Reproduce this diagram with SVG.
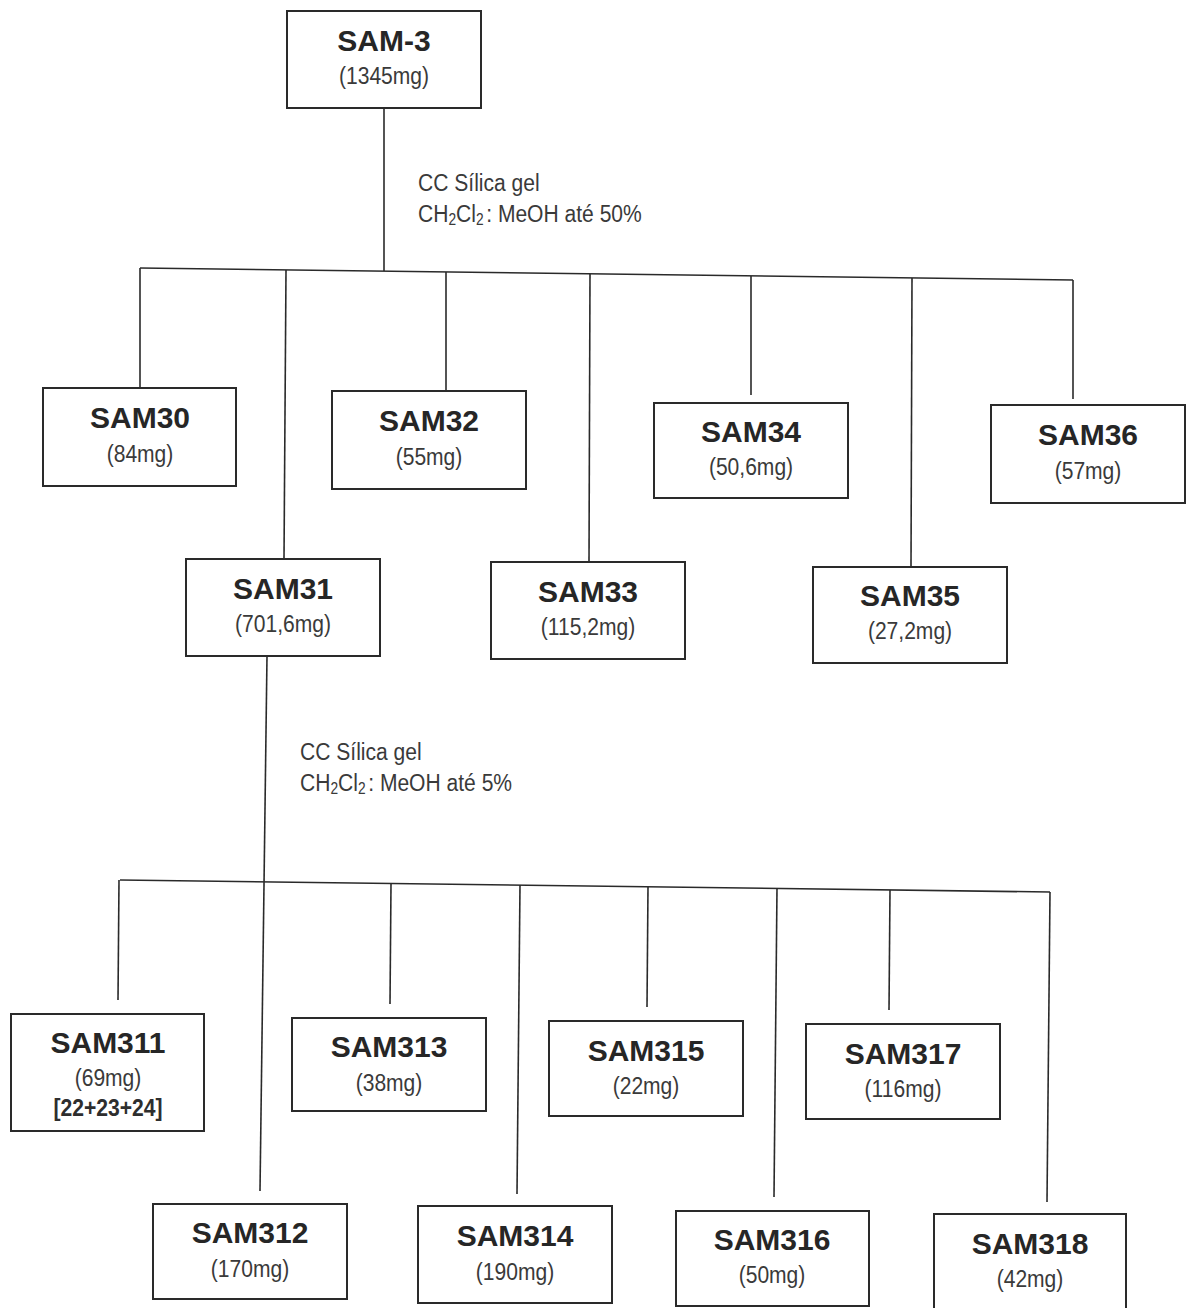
<svg xmlns="http://www.w3.org/2000/svg" width="1192" height="1308" viewBox="0 0 1192 1308">
<style>
.box{fill:#fff;stroke:#2a2a2a;stroke-width:2}
.ln{stroke:#2a2a2a;stroke-width:1.6;fill:none}
.t{font-family:"Liberation Sans",Arial,sans-serif;font-weight:bold;font-size:30px;fill:#262626;text-anchor:middle}
.m{font-family:"Liberation Sans",Arial,sans-serif;font-size:24.5px;fill:#3a3a3a;text-anchor:middle}
.b{font-family:"Liberation Sans",Arial,sans-serif;font-weight:bold;font-size:24px;fill:#2e2e2e;text-anchor:middle}
.lab{font-family:"Liberation Sans",Arial,sans-serif;font-size:24.5px;fill:#3a3a3a}
.sub{font-size:16px}
</style>
<rect width="1192" height="1308" fill="#fff"/>
<g id="connectors">
<line class="ln" x1="384" y1="108" x2="384" y2="271"/>
<line class="ln" x1="140" y1="268" x2="1073" y2="280"/>
<line class="ln" x1="140" y1="268" x2="140" y2="388"/>
<line class="ln" x1="286" y1="270" x2="284" y2="559"/>
<line class="ln" x1="446" y1="272" x2="446" y2="391"/>
<line class="ln" x1="590" y1="274" x2="589" y2="562"/>
<line class="ln" x1="751" y1="276" x2="751" y2="395"/>
<line class="ln" x1="912" y1="278" x2="911" y2="566"/>
<line class="ln" x1="1073" y1="280" x2="1073" y2="399"/>
<line class="ln" x1="267" y1="656" x2="260" y2="1191"/>
<line class="ln" x1="120" y1="880" x2="1050" y2="892"/>
<line class="ln" x1="119" y1="880" x2="118" y2="1000"/>
<line class="ln" x1="391" y1="884" x2="390" y2="1004"/>
<line class="ln" x1="520" y1="885" x2="517" y2="1194"/>
<line class="ln" x1="648" y1="887" x2="647" y2="1007"/>
<line class="ln" x1="777" y1="888" x2="774" y2="1197"/>
<line class="ln" x1="890" y1="890" x2="889" y2="1010"/>
<line class="ln" x1="1050" y1="892" x2="1047" y2="1202"/>
</g>
<g id="label1">
<text class="lab" transform="translate(418,191) scale(0.86,1)">CC Sílica gel</text>
<text class="lab" transform="translate(418,222) scale(0.86,1)">CH<tspan class="sub" dy="3">2</tspan><tspan dy="-3">Cl</tspan><tspan class="sub" dy="3">2</tspan><tspan dy="-3" dx="3">: MeOH até 50%</tspan></text>
</g>
<g id="label2">
<text class="lab" transform="translate(300,760) scale(0.86,1)">CC Sílica gel</text>
<text class="lab" transform="translate(300,791) scale(0.86,1)">CH<tspan class="sub" dy="3">2</tspan><tspan dy="-3">Cl</tspan><tspan class="sub" dy="3">2</tspan><tspan dy="-3" dx="3">: MeOH até 5%</tspan></text>
</g>
<g id="SAM-3"><rect class="box" x="287" y="11" width="194" height="97"/><text class="t" x="384" y="51">SAM-3</text><text class="m" transform="translate(384,84) scale(0.86,1)">(1345mg)</text></g>
<g id="SAM30"><rect class="box" x="43" y="388" width="193" height="98"/><text class="t" x="140" y="428">SAM30</text><text class="m" transform="translate(140,462) scale(0.86,1)">(84mg)</text></g>
<g id="SAM31"><rect class="box" x="186" y="559" width="194" height="97"/><text class="t" x="283" y="599">SAM31</text><text class="m" transform="translate(283,632) scale(0.86,1)">(701,6mg)</text></g>
<g id="SAM32"><rect class="box" x="332" y="391" width="194" height="98"/><text class="t" x="429" y="431">SAM32</text><text class="m" transform="translate(429,465) scale(0.86,1)">(55mg)</text></g>
<g id="SAM33"><rect class="box" x="491" y="562" width="194" height="97"/><text class="t" x="588" y="602">SAM33</text><text class="m" transform="translate(588,635) scale(0.86,1)">(115,2mg)</text></g>
<g id="SAM34"><rect class="box" x="654" y="403" width="194" height="95"/><text class="t" x="751" y="442">SAM34</text><text class="m" transform="translate(751,475) scale(0.86,1)">(50,6mg)</text></g>
<g id="SAM35"><rect class="box" x="813" y="567" width="194" height="96"/><text class="t" x="910" y="606">SAM35</text><text class="m" transform="translate(910,639) scale(0.86,1)">(27,2mg)</text></g>
<g id="SAM36"><rect class="box" x="991" y="405" width="194" height="98"/><text class="t" x="1088" y="445">SAM36</text><text class="m" transform="translate(1088,479) scale(0.86,1)">(57mg)</text></g>
<g id="SAM311"><rect class="box" x="11" y="1014" width="193" height="117"/><text class="t" x="108" y="1053">SAM311</text><text class="m" transform="translate(108,1086) scale(0.86,1)">(69mg)</text><text class="b" transform="translate(108,1116) scale(0.88,1)">[22+23+24]</text></g>
<g id="SAM312"><rect class="box" x="153" y="1204" width="194" height="95"/><text class="t" x="250" y="1243">SAM312</text><text class="m" transform="translate(250,1277) scale(0.86,1)">(170mg)</text></g>
<g id="SAM313"><rect class="box" x="292" y="1018" width="194" height="93"/><text class="t" x="389" y="1057">SAM313</text><text class="m" transform="translate(389,1091) scale(0.86,1)">(38mg)</text></g>
<g id="SAM314"><rect class="box" x="418" y="1206" width="194" height="97"/><text class="t" x="515" y="1246">SAM314</text><text class="m" transform="translate(515,1280) scale(0.86,1)">(190mg)</text></g>
<g id="SAM315"><rect class="box" x="549" y="1021" width="194" height="95"/><text class="t" x="646" y="1061">SAM315</text><text class="m" transform="translate(646,1094) scale(0.86,1)">(22mg)</text></g>
<g id="SAM316"><rect class="box" x="676" y="1211" width="193" height="95"/><text class="t" x="772" y="1250">SAM316</text><text class="m" transform="translate(772,1283) scale(0.86,1)">(50mg)</text></g>
<g id="SAM317"><rect class="box" x="806" y="1024" width="194" height="95"/><text class="t" x="903" y="1064">SAM317</text><text class="m" transform="translate(903,1097) scale(0.86,1)">(116mg)</text></g>
<g id="SAM318"><rect class="box" x="934" y="1214" width="192" height="100"/><text class="t" x="1030" y="1254">SAM318</text><text class="m" transform="translate(1030,1287) scale(0.86,1)">(42mg)</text></g>
</svg>
